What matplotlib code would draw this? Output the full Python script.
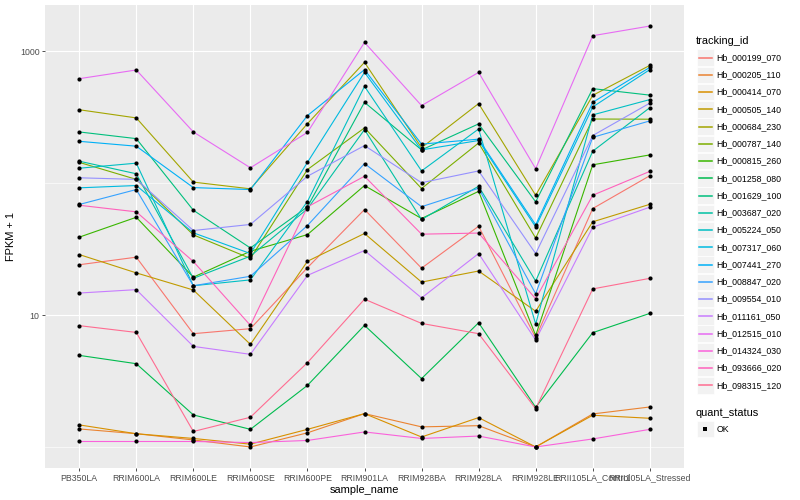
import numpy as np
import matplotlib
matplotlib.use("Agg")
import matplotlib.pyplot as plt
from matplotlib.patches import Rectangle
from matplotlib.lines import Line2D

plt.rcParams['font.family'] = ['Liberation Sans', 'DejaVu Sans']

# ---- data (FPKM + 1) ----
samples = ["PB350LA", "RRIM600LA", "RRIM600LE", "RRIM600SE", "RRIM600PE",
           "RRIM901LA", "RRIM928BA", "RRIM928LA", "RRIM928LE",
           "RRII105LA_Control", "RRII105LA_Stressed"]

tracking_ids = ["Hb_000199_070", "Hb_000205_110", "Hb_000414_070", "Hb_000505_140",
                "Hb_000684_230", "Hb_000787_140", "Hb_000815_260", "Hb_001258_080",
                "Hb_001629_100", "Hb_003687_020", "Hb_005224_050", "Hb_007317_060",
                "Hb_007441_270", "Hb_008847_020", "Hb_009554_010", "Hb_011161_050",
                "Hb_012515_010", "Hb_014324_030", "Hb_093666_020", "Hb_098315_120"]

# ggplot default hue palette for 20 levels
colors = ["#F8766D", "#EA8331", "#D89000", "#C09B00", "#A3A500", "#7CAE00",
          "#39B600", "#00BB4E", "#00BF7D", "#00C1A3", "#00BFC4", "#00BAE0",
          "#00B0F6", "#35A2FF", "#9590FF", "#C77CFF", "#E76BF3", "#FA62DB",
          "#FF62BC", "#FF6C91"]

hb_000199_070 = [24.1, 27.5, 7.23, 7.89, 22.9, 63.2, 22.7, 47.2, 6.74, 64.3, 114]
hb_000205_110 = [1.37, 1.26, 1.13, 1.00, 1.28, 1.79, 1.42, 1.45, 1.00, 1.78, 2.01]
hb_000414_070 = [1.47, 1.26, 1.16, 1.05, 1.36, 1.79, 1.19, 1.67, 1.00, 1.74, 1.65]
hb_000505_140 = [28.8, 20.9, 15.5, 6.00, 25.6, 41.6, 17.8, 21.6, 10.7, 51.0, 69.2]
hb_000684_230 = [361, 313, 102, 90.7, 283, 826, 186, 402, 81.1, 464, 783]
hb_000787_140 = [144, 107, 40.6, 26.9, 127, 263, 91.2, 202, 38.4, 307, 306]
hb_000815_260 = [39.0, 55.2, 19.4, 30.5, 40.8, 96.1, 54.0, 86.8, 7.01, 138, 164]
hb_001258_080 = [4.95, 4.28, 1.75, 1.36, 2.93, 8.36, 3.30, 8.75, 2.00, 7.36, 10.3]
hb_001629_100 = [245, 218, 62.4, 32.3, 66.2, 411, 179, 282, 72.3, 522, 466]
hb_003687_020 = [147, 118, 19.0, 28.0, 64.0, 255, 53.1, 94.9, 18.1, 175, 374]
hb_005224_050 = [130, 142, 16.7, 18.5, 72.7, 543, 124, 258, 8.55, 330, 431]
hb_007317_060 = [92.3, 96.1, 42.1, 29.3, 144, 693, 179, 211, 46.6, 379, 727]
hb_007441_270 = [208, 191, 92.7, 89.6, 326, 727, 198, 216, 48.4, 411, 756]
hb_008847_020 = [69.0, 89.6, 16.7, 19.7, 47.8, 141, 66.4, 91.6, 14.5, 223, 297]
hb_009554_010 = [110, 107, 43.8, 48.7, 113, 193, 101, 124, 29.3, 230, 405]
hb_011161_050 = [14.7, 15.6, 5.79, 5.04, 20.0, 30.9, 13.5, 29.3, 6.47, 46.4, 65.8]
hb_012515_010 = [621, 723, 245, 131, 243, 1170, 388, 693, 129, 1315, 1557]
hb_014324_030 = [1.10, 1.10, 1.10, 1.08, 1.12, 1.30, 1.16, 1.21, 1.00, 1.15, 1.36]
hb_093666_020 = [68.1, 60.7, 25.5, 8.36, 66.2, 113, 41.1, 41.9, 13.3, 81.1, 123]
hb_098315_120 = [8.32, 7.39, 1.31, 1.68, 4.36, 13.2, 8.65, 7.23, 1.95, 15.8, 19.0]

series = [hb_000199_070, hb_000205_110, hb_000414_070, hb_000505_140, hb_000684_230,
          hb_000787_140, hb_000815_260, hb_001258_080, hb_001629_100, hb_003687_020,
          hb_005224_050, hb_007317_060, hb_007441_270, hb_008847_020, hb_009554_010,
          hb_011161_050, hb_012515_010, hb_014324_030, hb_093666_020, hb_098315_120]

# ---- figure ----
W, H = 800, 500
fig = plt.figure(figsize=(8, 5), dpi=100)
ax = fig.add_axes([45 / W, 1 - 468 / H, (684 - 45) / W, (468 - 5) / H])
ax.set_facecolor("#EBEBEB")
for s in ax.spines.values():
    s.set_visible(False)

x = np.arange(len(samples))
for vals, col in zip(series, colors):
    ax.plot(x, vals, color=col, lw=0.8, zorder=3, solid_capstyle="butt")
for vals in series:
    ax.scatter(x, vals, s=9, color="black", zorder=4, linewidths=0)

ax.set_yscale("log")
allv = np.log10(np.concatenate([np.asarray(v, float) for v in series]))
lo, hi = allv.min(), allv.max()
pad = 0.05 * (hi - lo)
ax.set_ylim(10 ** (lo - pad), 10 ** (hi + pad))
ax.set_xlim(-0.6, len(samples) - 0.4)

ax.set_yticks([10, 1000])
ax.set_yticklabels(["10", "1000"])
ax.set_yticks([1, 100], minor=True)
ax.yaxis.set_minor_formatter(matplotlib.ticker.NullFormatter())
ax.set_xticks(x)
ax.set_xticklabels(samples)

ax.grid(True, which="major", color="white", lw=0.85, zorder=1)
ax.grid(True, which="minor", axis="y", color="white", lw=0.45, zorder=1)
ax.set_axisbelow(True)
ax.tick_params(axis="both", which="major", length=2.2, width=0.6, color="#333333",
               labelsize=6.3, labelcolor="#4D4D4D", pad=1.8)
ax.tick_params(axis="y", which="minor", length=0)

ax.set_xlabel("sample_name", fontsize=7.9, labelpad=1.5)
ax.set_ylabel("FPKM + 1", fontsize=7.9, labelpad=3)

# ---- legends (drawn in pixel space) ----
lg = fig.add_axes([0, 0, 1, 1])
lg.set_xlim(0, W)
lg.set_ylim(H, 0)
lg.axis("off")

lg.text(696, 40.5, "tracking_id", fontsize=7.9, va="center", ha="left")
y0, dy = 57.6, 17.25
for i, (tid, col) in enumerate(zip(tracking_ids, colors)):
    yc = y0 + i * dy
    lg.add_patch(Rectangle((697, yc - 8.3), 16.6, 16.6, facecolor="#F2F2F2",
                           edgecolor="white", lw=0.5, zorder=1))
    lg.add_line(Line2D([698.5, 711.5], [yc, yc], color=col, lw=1.1, zorder=3))
    lg.text(716.5, yc, tid, fontsize=6.3, va="center", ha="left")

lg.text(696, 412.5, "quant_status", fontsize=7.9, va="center", ha="left")
lg.add_patch(Rectangle((697, 429 - 8.3), 16.6, 16.6, facecolor="#F2F2F2",
                       edgecolor="white", lw=0.5, zorder=1))
lg.scatter([705.3], [429], s=9, color="black", marker="s", linewidths=0, zorder=3)
lg.text(716.5, 429, "OK", fontsize=6.3, va="center", ha="left")

fig.savefig("out.png", dpi=100)
